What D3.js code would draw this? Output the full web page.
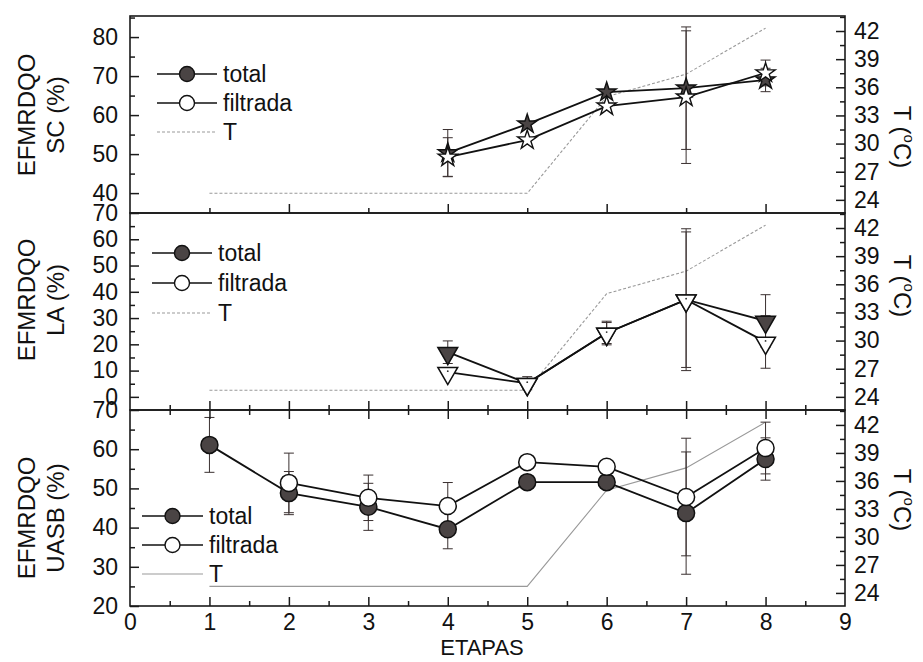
<!DOCTYPE html>
<meta charset="utf-8">
<script src="https://d3js.org/d3.v7.min.js"></script>
<style>
body { margin: 0; background: #fff; }
text { font-family: "Liberation Sans", Arial, sans-serif; fill: #111; }
.axis path { display: none; }
.axis line { stroke: #1a1a1a; stroke-width: 1.5px; }
.axis text { font-size: 23px; font-family: "Liberation Sans", Arial, sans-serif; fill: #111; }
.frame { fill: none; stroke: #1a1a1a; stroke-width: 1.6px; }
.err { stroke: #3a3030; stroke-width: 1px; fill: none; }
.serie { fill: none; stroke: #111; stroke-width: 1.8px; }
</style>
<body>
<script>
// etapas (x) and temperature
var etapas = [1, 2, 3, 4, 5, 6, 7, 8];
var tempT = [24.7, 24.7, 24.7, 24.7, 24.7, 35.0, 37.4, 42.3];

// SC panel
var scTotal = [null, null, null, 50.3, 57.7, 65.9, 66.9, 69.0];
var scTotalErr = [0, 0, 0, 6, 0, 0, 15.7, 3];
var scFiltrada = [null, null, null, 49.2, 53.6, 62.3, 64.6, 70.8];
var scFiltradaErr = [0, 0, 0, 5, 0, 0, 17, 3.3];

// LA panel
var laTotal = [null, null, null, 17, 5.2, 24.3, 37, 28.9];
var laTotalErr = [0, 0, 0, 4.3, 2.5, 4, 27, 10];
var laFiltrada = [null, null, null, 9.4, 5.2, 24.3, 37, 20.9];
var laFiltradaErr = [0, 0, 0, 0, 0, 4.5, 25.8, 10];

// UASB panel
var uasbTotal = [61.1, 48.8, 45.3, 39.6, 51.6, 51.6, 43.7, 57.5];
var uasbTotalErr = [7, 5.5, 6, 5, 0, 0, 15.6, 5.4];
var uasbFiltrada = [null, 51.4, 47.6, 45.5, 56.7, 55.5, 47.8, 60.3];
var uasbFiltradaErr = [0, 7.6, 5.8, 6, 0, 0, 15, 6.6];

var xTicks = [0, 1, 2, 3, 4, 5, 6, 7, 8, 9];
var tTicks = [24, 27, 30, 33, 36, 39, 42];
var tMinor = [25.5, 28.5, 31.5, 34.5, 37.5, 40.5, 43.5];

var width = 923, height = 662;
var svg = d3.select('body').append('svg')
    .attr('width', width)
    .attr('height', height);

var x = d3.scaleLinear().domain([0, 9]).range([130, 845]);

var panels = [
    {top: 16, bottom: 213, domain: [34.9, 85.4], ticks: [40, 50, 60, 70, 80], minor: [45, 55, 65, 75, 85],
     total: scTotal, totalErr: scTotalErr, filt: scFiltrada, filtErr: scFiltradaErr,
     shape: 'star', name: 'SC (%)', titleY: 115, tTitleY: 137, dash: '3,2',
     legend: {x0: 157, x1: 217, y: 74, dy: 29}},
    {top: 213, bottom: 410, domain: [-5, 70], ticks: [0, 10, 20, 30, 40, 50, 60, 70], minor: [5, 15, 25, 35, 45, 55, 65],
     total: laTotal, totalErr: laTotalErr, filt: laFiltrada, filtErr: laFiltradaErr,
     shape: 'tri', name: 'LA (%)', titleY: 300, tTitleY: 286, dash: '3,2',
     legend: {x0: 152, x1: 212, y: 253, dy: 30}},
    {top: 410, bottom: 606, domain: [20, 70], ticks: [20, 30, 40, 50, 60, 70], minor: [25, 35, 45, 55, 65],
     total: uasbTotal, totalErr: uasbTotalErr, filt: uasbFiltrada, filtErr: uasbFiltradaErr,
     shape: 'circle', name: 'UASB (%)', titleY: 518, tTitleY: 500, dash: null,
     legend: {x0: 142, x1: 203, y: 516, dy: 29}}
];

var starPath = d3.symbol().type(d3.symbolStar).size(115)();
var triPath = d3.symbol().type(d3.symbolTriangle).size(170)();

function drawMarker(g, px, py, shape, filled) {
    var fill = filled ? '#4a4444' : '#fff';
    if (shape == 'circle') {
        g.append('circle').attr('cx', px).attr('cy', py).attr('r', 8.5)
            .attr('fill', fill).attr('stroke', '#111').attr('stroke-width', 1.5);
    } else if (shape == 'star') {
        g.append('path').attr('d', starPath)
            .attr('transform', 'translate(' + px + ',' + py + ')')
            .attr('fill', fill).attr('stroke', '#111').attr('stroke-width', 1.4);
    } else {
        g.append('path').attr('d', triPath)
            .attr('transform', 'translate(' + px + ',' + (py + 1) + ') rotate(180)')
            .attr('fill', fill).attr('stroke', '#111').attr('stroke-width', 1.5);
        if (!filled) {
            g.append('circle').attr('cx', px).attr('cy', py - 1).attr('r', 0.9).attr('fill', '#333');
        }
    }
}

panels.forEach(function(p) {
    var y = d3.scaleLinear().domain(p.domain).range([p.bottom, p.top]);
    var yT = d3.scaleLinear().domain([22.6, 43.6]).range([p.bottom, p.top]);

    // left axis
    svg.append('g').attr('class', 'axis')
        .attr('transform', 'translate(' + x(0) + ',0)')
        .call(d3.axisLeft(y).tickValues(p.ticks).tickSize(-9).tickPadding(12));
    svg.append('g').attr('class', 'axis')
        .attr('transform', 'translate(' + x(0) + ',0)')
        .call(d3.axisLeft(y).tickValues(p.minor).tickSize(-5).tickFormat(''));

    // right axis
    svg.append('g').attr('class', 'axis')
        .attr('transform', 'translate(' + x(9) + ',0)')
        .call(d3.axisRight(yT).tickValues(tTicks).tickSize(-9).tickPadding(9));
    svg.append('g').attr('class', 'axis')
        .attr('transform', 'translate(' + x(9) + ',0)')
        .call(d3.axisRight(yT).tickValues(tMinor).tickSize(-5).tickFormat(''));

    svg.append('rect').attr('class', 'frame')
        .attr('x', x(0)).attr('y', p.top)
        .attr('width', x(9) - x(0)).attr('height', p.bottom - p.top);

    // temperature line
    var tLine = d3.line().x(function(d, i) { return x(etapas[i]); }).y(function(d) { return yT(d); });
    svg.append('path').attr('d', tLine(tempT))
        .attr('fill', 'none').attr('stroke', '#999').attr('stroke-width', 1.1)
        .attr('stroke-dasharray', p.dash);

    // error bars
    var eg = svg.append('g');
    [[p.total, p.totalErr], [p.filt, p.filtErr]].forEach(function(s) {
        s[0].forEach(function(v, i) {
            var e = s[1][i];
            if (v == null || !e) return;
            var px = x(etapas[i]);
            eg.append('line').attr('class', 'err')
                .attr('x1', px).attr('x2', px).attr('y1', y(v - e)).attr('y2', y(v + e));
            [v - e, v + e].forEach(function(c) {
                eg.append('line').attr('class', 'err')
                    .attr('x1', px - 5).attr('x2', px + 5).attr('y1', y(c)).attr('y2', y(c));
            });
        });
    });

    // series lines
    var line = d3.line()
        .defined(function(d) { return d != null; })
        .x(function(d, i) { return x(etapas[i]); })
        .y(function(d) { return y(d); });
    svg.append('path').attr('class', 'serie').attr('d', line(p.total));
    svg.append('path').attr('class', 'serie').attr('d', line(p.filt));

    var mg = svg.append('g');
    p.total.forEach(function(v, i) { if (v != null) drawMarker(mg, x(etapas[i]), y(v), p.shape, true); });
    p.filt.forEach(function(v, i) { if (v != null) drawMarker(mg, x(etapas[i]), y(v), p.shape, false); });

    // legend
    var L = p.legend;
    var lg = svg.append('g');
    var labels = ['total', 'filtrada', 'T'];
    labels.forEach(function(lab, k) {
        var ly = L.y + k * L.dy;
        lg.append('line').attr('x1', L.x0).attr('x2', L.x1).attr('y1', ly).attr('y2', ly)
            .attr('stroke', k == 2 ? '#999' : '#111')
            .attr('stroke-width', k == 2 ? 1.1 : 1.5)
            .attr('stroke-dasharray', k == 2 ? p.dash : null);
        if (k < 2) {
            lg.append('circle').attr('cx', (L.x0 + L.x1) / 2).attr('cy', ly).attr('r', 7.5)
                .attr('fill', k == 0 ? '#4a4444' : '#fff').attr('stroke', '#111').attr('stroke-width', 1.4);
        }
        lg.append('text').attr('x', L.x1 + 6).attr('y', ly + 8)
            .style('font-size', '23px').text(lab);
    });

    // titles
    svg.append('text')
        .attr('transform', 'translate(35,' + p.titleY + ') rotate(-90)')
        .attr('text-anchor', 'middle').style('font-size', '24px').text('EFMRDQO');
    svg.append('text')
        .attr('transform', 'translate(64,' + p.titleY + ') rotate(-90)')
        .attr('text-anchor', 'middle').style('font-size', '24px').text(p.name);

    var tt = svg.append('text')
        .attr('transform', 'translate(894,' + p.tTitleY + ') rotate(90)')
        .attr('text-anchor', 'middle').style('font-size', '24px');
    tt.append('tspan').text('T (');
    tt.append('tspan').attr('dy', -10).style('font-size', '15px').text('o');
    tt.append('tspan').attr('dy', 10).text('C)');
});

// x ticks
var integers = d3.range(1, 9);
var halves = d3.range(0.5, 9, 1);
// top panel bottom edge
svg.append('g').attr('class', 'axis').attr('transform', 'translate(0,213)')
    .call(d3.axisTop(x).tickValues([2, 4, 6, 8]).tickSize(9).tickFormat(''));
svg.append('g').attr('class', 'axis').attr('transform', 'translate(0,213)')
    .call(d3.axisTop(x).tickValues([1, 3, 5, 7]).tickSize(5).tickFormat(''));
// middle / bottom shared edge
[d3.axisTop, d3.axisBottom].forEach(function(ax) {
    svg.append('g').attr('class', 'axis').attr('transform', 'translate(0,410)')
        .call(ax(x).tickValues(integers).tickSize(9).tickFormat(''));
    svg.append('g').attr('class', 'axis').attr('transform', 'translate(0,410)')
        .call(ax(x).tickValues(halves).tickSize(5).tickFormat(''));
});
// bottom edge
svg.append('g').attr('class', 'axis').attr('transform', 'translate(0,606)')
    .call(d3.axisTop(x).tickValues(integers).tickSize(9).tickFormat(''));
svg.append('g').attr('class', 'axis').attr('transform', 'translate(0,606)')
    .call(d3.axisTop(x).tickValues(halves).tickSize(5).tickFormat(''));
svg.append('g').attr('class', 'axis').attr('transform', 'translate(0,606)')
    .call(d3.axisBottom(x).tickValues(xTicks).tickSize(0).tickPadding(8));

svg.append('text')
    .attr('x', 482).attr('y', 655)
    .attr('text-anchor', 'middle').style('font-size', '22px')
    .text('ETAPAS');
</script>
</body>
</html>
